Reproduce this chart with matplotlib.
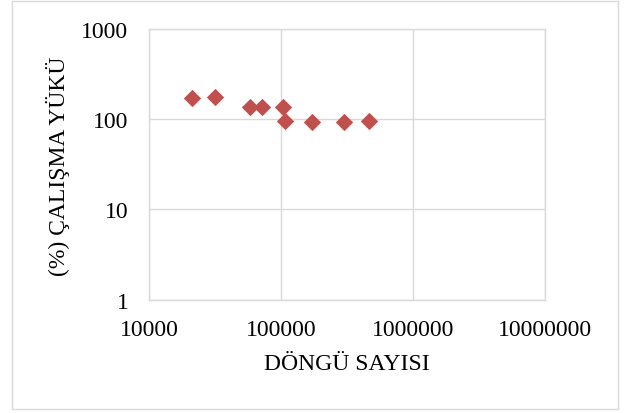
import matplotlib.pyplot as plt
from matplotlib.patches import Rectangle

# cycles to failure vs. working load (%)
cycles = [21000, 31500, 58200, 71400, 103500, 107000, 171800, 298500, 464000]
load_pct = [174, 178, 138, 138, 136, 96, 93, 93, 96]

x_ticks = [1e4, 1e5, 1e6, 1e7]
x_labels = ["10000", "100000", "1000000", "10000000"]
y_ticks = [1, 10, 100, 1000]
y_labels = ["1", "10", "100", "1000"]

plt.rcParams['font.family'] = ['Liberation Serif', 'DejaVu Serif']

W, H = 625, 414
fig = plt.figure(figsize=(W / 100, H / 100), dpi=100)
fig.patch.set_facecolor('white')

# light outer frame
fig.patches.append(Rectangle((12 / W, 1 - 410 / H), (618 - 12) / W, (410 - 2) / H,
                             transform=fig.transFigure, fill=False,
                             edgecolor='#d9d9d9', linewidth=1))

ax = fig.add_axes([149.3 / W, 1 - 300.7 / H, (545.3 - 149.3) / W, (300.7 - 30) / H])
ax.set_xscale('log')
ax.set_yscale('log')
ax.set_xlim(1e4, 1e7)
ax.set_ylim(1, 1000)

ax.set_xticks(x_ticks)
ax.set_xticklabels(x_labels)
ax.set_yticks(y_ticks)
ax.set_yticklabels(y_labels)
ax.minorticks_off()
ax.tick_params(length=0, labelsize=17, colors='black')
ax.tick_params(axis='x', pad=14)
ax.tick_params(axis='y', pad=15)

ax.grid(True, color='#d9d9d9', linewidth=1)
ax.set_axisbelow(True)
for s in ax.spines.values():
    s.set_color('#d9d9d9')
    s.set_linewidth(1)

ax.scatter(cycles, load_pct, marker='D', s=78, color='#c0504d', zorder=3, linewidths=0)

fig.text(347 / W, 1 - 365 / H, "DÖNGÜ SAYISI", ha='center', va='center', fontsize=17)
fig.text(58 / W, 1 - 166 / H, "(%) ÇALIŞMA YÜKÜ", ha='center', va='center',
         fontsize=17, rotation=90)

fig.savefig('out.png', dpi=100)
